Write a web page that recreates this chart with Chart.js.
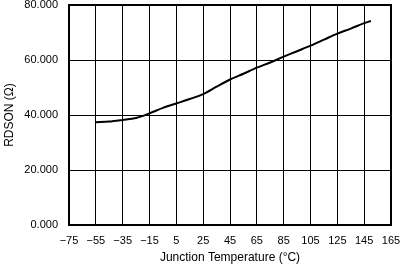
<!DOCTYPE html>
<html>
<head>
<meta charset="utf-8">
<script src="https://cdn.jsdelivr.net/npm/chart.js@4"></script>
<style>
html,body{margin:0;padding:0;background:#fff;}
#wrap{width:406px;height:266px;}
</style>
</head>
<body>
<div id="wrap"><canvas id="c" width="406" height="266"></canvas></div>
<script>
const temperatures = [-55, -45, -35, -25, -15, -5, 5, 15, 25, 35, 45, 55, 65, 75, 85, 95, 105, 115, 125, 135, 145, 150];
const rdson = [37.4, 37.6, 38.2, 38.9, 40.6, 42.6, 44.2, 45.8, 47.6, 50.3, 52.9, 55.0, 57.2, 59.1, 61.2, 63.2, 65.2, 67.4, 69.6, 71.4, 73.4, 74.2];
const xTicks = [-75, -55, -35, -15, 5, 25, 45, 65, 85, 105, 125, 145, 165];
const yTicks = [0, 20, 40, 60, 80];

const fam = "'Liberation Sans', Arial, sans-serif";
const tickFont = {family: fam, size: 11};
const titleFont = {family: fam, size: 12};

const frame = {
  id: 'frame',
  afterDatasetsDraw(chart) {
    const a = chart.chartArea, ctx = chart.ctx;
    ctx.save();
    ctx.strokeStyle = '#000';
    ctx.lineWidth = 2;
    ctx.strokeRect(a.left, a.top, a.right - a.left, a.bottom - a.top);
    ctx.restore();
  }
};

new Chart(document.getElementById('c'), {
  type: 'line',
  data: {
    datasets: [{
      data: temperatures.map((t, i) => ({x: t, y: rdson[i]})),
      borderColor: '#000',
      borderWidth: 2,
      pointRadius: 0,
      tension: 0.3,
      fill: false
    }]
  },
  options: {
    responsive: false,
    animation: false,
    devicePixelRatio: 1,
    layout: {padding: {left: 0, right: 15, top: 5, bottom: 1}},
    plugins: {legend: {display: false}, tooltip: {enabled: false}},
    scales: {
      x: {
        type: 'linear',
        min: -75, max: 165,
        afterBuildTicks(scale) { scale.ticks = xTicks.map(v => ({value: v})); },
        afterFit(scale) { scale.height = 40; scale.paddingLeft = 0; scale.paddingRight = 0; },
        grid: {color: '#000', lineWidth: 1, drawTicks: false},
        border: {color: '#000', width: 2},
        ticks: {
          color: '#000', font: tickFont, padding: 9, maxRotation: 0, autoSkip: false,
          callback: v => String(v).replace('-', '\u2212')
        },
        title: {display: true, text: 'Junction Temperature (°C)', color: '#000', font: titleFont, padding: {top: 3, bottom: 0}}
      },
      y: {
        min: 0, max: 80,
        afterBuildTicks(scale) { scale.ticks = yTicks.map(v => ({value: v})); },
        afterFit(scale) { scale.width = 69; scale.paddingTop = 0; scale.paddingBottom = 0; },
        grid: {color: '#000', lineWidth: 1, drawTicks: false},
        border: {color: '#000', width: 2},
        ticks: {color: '#000', font: tickFont, padding: 11, callback: v => Number(v).toFixed(3)},
        title: {display: true, text: 'RDSON (Ω)', color: '#000', font: titleFont, padding: {top: 2, bottom: 0}}
      }
    }
  },
  plugins: [frame]
});
</script>
</body>
</html>
